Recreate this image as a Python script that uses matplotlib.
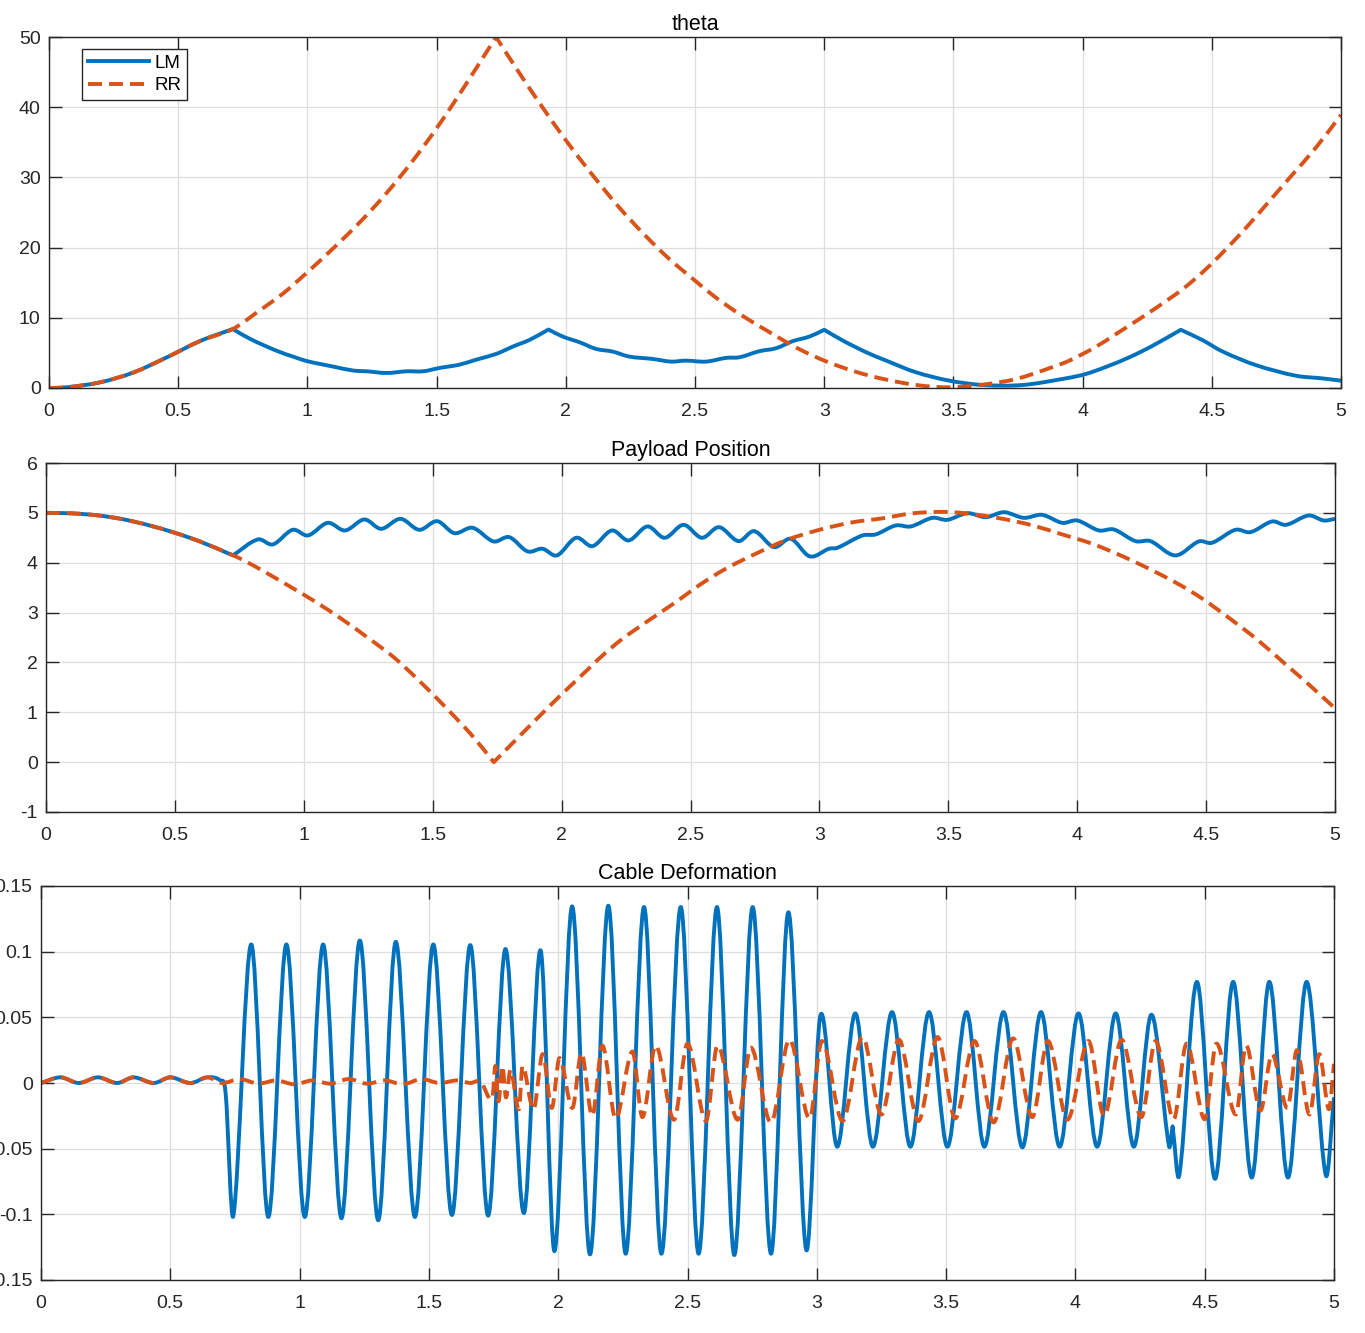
import matplotlib
matplotlib.use("Agg")
import matplotlib.pyplot as plt
from matplotlib.ticker import FuncFormatter
from matplotlib.path import Path
from matplotlib.patches import PathPatch
from matplotlib.lines import Line2D

plt.rcParams['font.family'] = ['Liberation Sans', 'DejaVu Sans']
plt.rcParams['axes.unicode_minus'] = False

# ---- theta (top) ----
t_th_lm = [0, 0.068, 0.197, 0.326, 0.455, 0.585, 0.711, 0.778, 0.881, 0.95, 1.0, 1.062, 1.10, 1.178,
           1.229, 1.306, 1.384, 1.448, 1.512, 1.589, 1.654, 1.731, 1.795, 1.86, 1.933, 1.988, 2.053,
           2.117, 2.181, 2.245, 2.336, 2.407, 2.465, 2.543, 2.62, 2.672, 2.749, 2.814, 2.878, 2.943,
           3.0, 3.072, 3.162, 3.24, 3.355, 3.484, 3.614, 3.768, 3.936, 4.013, 4.09, 4.18, 4.271,
           4.38, 4.464, 4.541, 4.67, 4.825, 4.928, 5.0]
th_lm = [0, 0.1, 0.8, 2.2, 4.35, 6.7, 8.4, 7.0, 5.3, 4.4, 3.81, 3.33, 3.05, 2.48,
         2.38, 2.14, 2.38, 2.38, 2.86, 3.33, 4.05, 4.86, 5.9, 6.86, 8.33, 7.33, 6.52,
         5.57, 5.19, 4.48, 4.14, 3.76, 3.9, 3.76, 4.29, 4.38, 5.24, 5.67, 6.67, 7.33,
         8.29, 6.76, 5.1, 3.9, 2.24, 1.05, 0.43, 0.43, 1.38, 2.0, 3.0, 4.36, 6.02,
         8.29, 6.82, 5.21, 3.27, 1.75, 1.37, 1.04]
t_th_rr = [0, 0.068, 0.197, 0.326, 0.455, 0.585, 0.711, 0.804, 0.907, 0.997, 1.1, 1.2, 1.3, 1.4,
           1.5, 1.6, 1.73, 1.8, 1.9, 2.0, 2.1, 2.2, 2.3, 2.4, 2.5, 2.58, 2.67, 2.8, 2.9, 3.007,
           3.123, 3.239, 3.362, 3.484, 3.614, 3.743, 3.87, 3.948, 4.052, 4.129, 4.206, 4.284,
           4.387, 4.477, 4.567, 4.644, 4.722, 4.812, 4.902, 5.0]
th_rr = [0, 0.1, 0.8, 2.2, 4.35, 6.7, 8.4, 10.75, 13.5, 16.4, 19.9, 23.5, 27.5, 32.0,
         37.0, 42.5, 50.0, 46.0, 40.5, 35.3, 30.5, 26.0, 22.0, 18.4, 15.3, 12.9, 10.6, 7.7, 5.6, 3.8,
         2.3, 1.2, 0.4, 0.1, 0.48, 1.29, 2.8, 3.89, 5.88, 7.68, 9.5, 11.4,
         14.08, 16.92, 20.24, 23.3, 26.6, 30.4, 34.2, 38.9]

# ---- payload position (middle) ----
t_pos_lm = [0, 0.1, 0.2, 0.3, 0.4, 0.5, 0.6, 0.725, 0.822, 0.880, 0.957, 1.016, 1.093, 1.160,
            1.235, 1.30, 1.375, 1.448, 1.517, 1.584, 1.655, 1.736, 1.797, 1.868, 1.926, 1.982,
            2.056, 2.12, 2.195, 2.26, 2.333, 2.40, 2.473, 2.544, 2.611, 2.686, 2.747, 2.824,
            2.889, 2.963, 3.037, 3.07, 3.167, 3.218, 3.296, 3.354, 3.438, 3.496, 3.574, 3.645,
            3.716, 3.793, 3.864, 3.942, 4.0, 4.084, 4.142, 4.226, 4.284, 4.381, 4.472, 4.523,
            4.614, 4.672, 4.756, 4.81, 4.898, 4.956, 5.0]
pos_lm = [5.0, 4.99, 4.95, 4.87, 4.75, 4.6, 4.42, 4.147, 4.467, 4.367, 4.66, 4.547, 4.80, 4.647,
          4.867, 4.68, 4.88, 4.66, 4.833, 4.593, 4.70, 4.427, 4.513, 4.227, 4.28, 4.147,
          4.50, 4.333, 4.647, 4.447, 4.727, 4.50, 4.76, 4.50, 4.713, 4.433, 4.633, 4.313,
          4.48, 4.127, 4.28, 4.30, 4.547, 4.567, 4.747, 4.727, 4.90, 4.86, 4.993, 4.913,
          5.013, 4.90, 4.96, 4.80, 4.847, 4.647, 4.667, 4.433, 4.433, 4.147, 4.427, 4.40,
          4.66, 4.613, 4.827, 4.76, 4.947, 4.847, 4.88]
t_pos_rr = [0, 0.1, 0.2, 0.3, 0.4, 0.5, 0.6, 0.725, 0.777, 0.854, 0.957, 1.05, 1.15, 1.25, 1.35,
            1.45, 1.55, 1.65, 1.737, 1.8, 1.9, 2.0, 2.1, 2.146, 2.23, 2.34, 2.443, 2.534, 2.637,
            2.753, 2.87, 3.0, 3.128, 3.244, 3.36, 3.48, 3.57, 3.70, 3.826, 3.94, 4.058, 4.18,
            4.29, 4.40, 4.485, 4.6, 4.7, 4.8, 4.9, 5.0]
pos_rr = [5.0, 4.99, 4.95, 4.87, 4.75, 4.6, 4.42, 4.15, 4.02, 3.8, 3.49, 3.2, 2.86, 2.49, 2.1,
          1.62, 1.1, 0.55, 0.0, 0.33, 0.85, 1.36, 1.85, 2.08, 2.45, 2.85, 3.21, 3.55, 3.88,
          4.18, 4.45, 4.66, 4.81, 4.89, 4.99, 5.02, 4.99, 4.89, 4.75, 4.57, 4.38, 4.12,
          3.85, 3.55, 3.28, 2.85, 2.45, 2.0, 1.55, 1.08]

# ---- cable deformation (bottom) ----
t_def_lm = [0, 0.075, 0.146, 0.22, 0.294, 0.358, 0.436, 0.50, 0.578, 0.643, 0.694, 0.714, 0.744,
            0.813, 0.879, 0.949, 1.020, 1.091, 1.162, 1.233, 1.304, 1.372, 1.446, 1.517, 1.589,
            1.660, 1.729, 1.796, 1.867, 1.932, 1.986, 2.054, 2.123, 2.194, 2.261, 2.332, 2.399,
            2.474, 2.543, 2.614, 2.681, 2.752, 2.823, 2.890, 2.959, 3.014, 3.079, 3.149, 3.217,
            3.291, 3.362, 3.434, 3.505, 3.579, 3.648, 3.722, 3.795, 3.867, 3.939, 4.012, 4.084,
            4.156, 4.226, 4.294, 4.362, 4.376, 4.402, 4.470, 4.54, 4.61, 4.682, 4.75, 4.822,
            4.894, 4.968, 5.0]
def_lm = [0, 0.0043, 0.0, 0.0043, 0.0, 0.0043, 0.0, 0.0043, 0.0, 0.0043, 0.0018, -0.008, -0.101,
          0.1055, -0.102, 0.1055, -0.102, 0.1055, -0.103, 0.1085, -0.1045, 0.1075, -0.102, 0.1055, -0.1005,
          0.105, -0.101, 0.102, -0.099, 0.101, -0.128, 0.1345, -0.1305, 0.135, -0.130, 0.134, -0.130,
          0.134, -0.130, 0.134, -0.131, 0.134, -0.130, 0.130, -0.127, 0.0515, -0.0485, 0.053, -0.0485,
          0.054, -0.0485, 0.054, -0.0485, 0.054, -0.0485, 0.054, -0.049, 0.054, -0.0485, 0.053, -0.0485,
          0.053, -0.0485, 0.052, -0.048, -0.033, -0.070, 0.077, -0.073, 0.077, -0.072, 0.077, -0.072,
          0.077, -0.070, -0.011]
t_def_rr = [0, 0.075, 0.146, 0.22, 0.294, 0.358, 0.436, 0.50, 0.578, 0.643, 0.70, 0.77, 0.84, 0.91,
            0.98, 1.05, 1.12, 1.19, 1.26, 1.33, 1.40, 1.47, 1.54, 1.61, 1.66, 1.70, 1.745, 1.757,
            1.769, 1.784, 1.798, 1.816, 1.848, 1.862, 1.905, 1.94, 1.975, 2.005, 2.055, 2.09, 2.132,
            2.171, 2.222, 2.287, 2.326, 2.377, 2.448, 2.50, 2.571, 2.616, 2.694, 2.745, 2.823, 2.894,
            2.972, 3.02, 3.10, 3.176, 3.25, 3.318, 3.393, 3.467, 3.535, 3.61, 3.684, 3.759, 3.833,
            3.894, 3.969, 4.05, 4.111, 4.179, 4.255, 4.31, 4.38, 4.43, 4.50, 4.545, 4.62, 4.66,
            4.715, 4.76, 4.82, 4.857, 4.905, 4.943, 4.98, 5.0]
def_rr = [0, 0.0043, 0.0, 0.0043, 0.0, 0.0043, 0.0, 0.0043, 0.0, 0.0043, 0.0, 0.003, -0.0005, 0.002,
          -0.001, 0.002, -0.0005, 0.003, -0.0005, 0.002, -0.001, 0.003, 0.0, 0.002, 0.0, 0.001, -0.012, 0.013,
          -0.014, 0.013, -0.011, 0.010, -0.020, 0.013, -0.020, 0.022, -0.019, 0.019, -0.019, 0.023, -0.025,
          0.0285, -0.027, 0.024, -0.026, 0.0285, -0.028, 0.030, -0.029, 0.0285, -0.028, 0.027, -0.030, 0.033,
          -0.027, 0.032, -0.029, 0.035, -0.024, 0.033, -0.029, 0.035, -0.027, 0.032, -0.030, 0.034, -0.026,
          0.032, -0.028, 0.032, -0.025, 0.033, -0.026, 0.032, -0.0276, 0.030, -0.0276, 0.030, -0.024, 0.0285,
          -0.021, 0.022, -0.019, 0.025, -0.024, 0.022, -0.020, 0.0146]

blue = '#0072BD'
orange = '#D95319'
lw = 2.8
dash = (0, (3.6, 1.8))


def smooth_line(ax, xs, ys, corners=(), **kw):
    # draw a smooth curve through the read points (cubic bezier pieces),
    # keeping sharp corners at the given x values
    n = len(xs)
    sharp = [xs.index(c) for c in corners]

    def slope(i, leaving):
        if i == 0 or (i in sharp and leaving):
            return (ys[i + 1] - ys[i]) / (xs[i + 1] - xs[i])
        if i == n - 1 or (i in sharp and not leaving):
            return (ys[i] - ys[i - 1]) / (xs[i] - xs[i - 1])
        return (ys[i + 1] - ys[i - 1]) / (xs[i + 1] - xs[i - 1])

    verts = [(xs[0], ys[0])]
    codes = [Path.MOVETO]
    for i in range(n - 1):
        h = (xs[i + 1] - xs[i]) / 3.0
        verts.append((xs[i] + h, ys[i] + slope(i, True) * h))
        verts.append((xs[i + 1] - h, ys[i + 1] - slope(i + 1, False) * h))
        verts.append((xs[i + 1], ys[i + 1]))
        codes += [Path.CURVE4] * 3
    patch = PathPatch(Path(verts, codes), fill=False, joinstyle='round', **kw)
    ax.add_patch(patch)
    return patch


def tick_fmt(v, pos):
    return '%g' % round(v, 4)


def style(ax, ylim, yticks, title):
    ax.set_xlim(0, 5)
    ax.set_ylim(ylim)
    ax.set_xticks([0, 0.5, 1, 1.5, 2, 2.5, 3, 3.5, 4, 4.5, 5])
    ax.set_yticks(yticks)
    ax.xaxis.set_major_formatter(FuncFormatter(tick_fmt))
    ax.yaxis.set_major_formatter(FuncFormatter(tick_fmt))
    ax.grid(True, color='#dedede', linewidth=0.9)
    ax.set_axisbelow(True)
    ax.tick_params(direction='in', top=True, right=True, length=9, width=1,
                   labelsize=14, colors='#262626')
    ax.tick_params(axis='x', pad=10.5)
    ax.tick_params(axis='y', pad=6)
    for s in ax.spines.values():
        s.set_color('#262626')
        s.set_linewidth(1.0)
    ax.set_title(title, fontsize=15.5, pad=5)


fig = plt.figure(figsize=(13.65, 13.33), dpi=100)
ax1 = fig.add_axes([49 / 1365, 1 - 388 / 1333, 1292 / 1365, 351 / 1333])
ax2 = fig.add_axes([46 / 1365, 1 - 812 / 1333, 1289 / 1365, 349 / 1333])
ax3 = fig.add_axes([41 / 1365, 1 - 1280 / 1333, 1293 / 1365, 394 / 1333])

# theta
smooth_line(ax1, t_th_lm, th_lm, corners=[0.711, 1.933, 3.0, 4.38], edgecolor=blue, lw=lw)
smooth_line(ax1, t_th_rr, th_rr, corners=[1.73], edgecolor=orange, lw=lw, linestyle=dash)
style(ax1, (0, 50), [0, 10, 20, 30, 40, 50], 'theta')
handles = [Line2D([], [], color=blue, lw=lw),
           Line2D([], [], color=orange, lw=lw, linestyle=dash)]
leg = ax1.legend(handles, ['LM', 'RR'], loc='upper left', bbox_to_anchor=(0.0255, 0.966),
                 borderaxespad=0, fancybox=False, edgecolor='#262626', framealpha=1,
                 fontsize=13.5, handlelength=3.3, borderpad=0.3, labelspacing=0.3,
                 handletextpad=0.25)
leg.get_frame().set_linewidth(1.0)

# payload position
smooth_line(ax2, t_pos_lm, pos_lm, corners=[0.725], edgecolor=blue, lw=lw)
smooth_line(ax2, t_pos_rr, pos_rr, corners=[1.737], edgecolor=orange, lw=lw, linestyle=dash)
style(ax2, (-1, 6), [-1, 0, 1, 2, 3, 4, 5, 6], 'Payload Position')

# cable deformation
smooth_line(ax3, t_def_lm, def_lm, corners=[4.376], edgecolor=blue, lw=lw)
smooth_line(ax3, t_def_rr, def_rr, edgecolor=orange, lw=lw, linestyle=dash)
style(ax3, (-0.15, 0.15), [-0.15, -0.1, -0.05, 0, 0.05, 0.1, 0.15], 'Cable Deformation')

fig.savefig('out.png', dpi=100)
